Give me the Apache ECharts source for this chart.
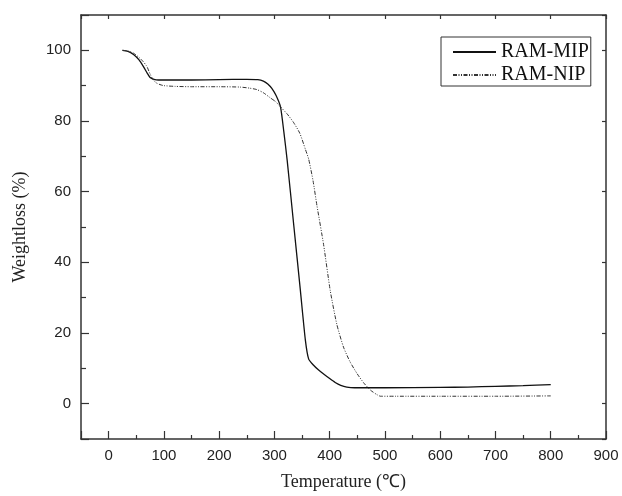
<!DOCTYPE html>
<html>
<head>
<meta charset="utf-8">
<script src="https://cdn.jsdelivr.net/npm/echarts@6/dist/echarts.min.js"></script>
<style>html,body{margin:0;padding:0;background:#fff}#c{width:622px;height:496px}</style>
</head>
<body>
<div id="c"></div>
<script>
const xTickLabels = [0, 100, 200, 300, 400, 500, 600, 700, 800, 900];
const yTickLabels = [0, 20, 40, 60, 80, 100];

const mipTemp = [25, 35, 45, 55, 63, 70, 75, 82, 90, 100, 150, 200, 250, 270, 280, 288, 295, 303, 311, 317, 323, 335, 347, 356, 362, 370, 380, 389, 400, 410, 420, 431, 445, 500, 600, 650, 700, 750, 800];
const mipWeight = [100, 99.7, 98.8, 97.3, 95.4, 93.5, 92.3, 91.8, 91.6, 91.6, 91.6, 91.7, 91.8, 91.7, 91.3, 90.5, 89.3, 87.2, 84, 77, 69, 50.5, 32, 18, 12.6, 11, 9.5, 8.4, 7.1, 6, 5.2, 4.7, 4.5, 4.5, 4.6, 4.7, 4.9, 5.1, 5.4];

const nipTemp = [25, 35, 45, 55, 62, 69, 75, 80, 86, 93, 100, 120, 150, 200, 238, 255, 268, 280, 293, 302, 311, 323, 335, 346, 356, 362, 370, 377, 389, 401, 413, 425, 437, 450, 462, 474, 485, 492, 520, 600, 700, 800];
const nipWeight = [100, 99.8, 99.2, 98, 96.9, 95.5, 93.3, 91.8, 90.8, 90.3, 90, 89.8, 89.7, 89.7, 89.6, 89.3, 88.9, 88, 86.5, 85.5, 84, 82, 79.5, 76.5, 72, 69.2, 63, 56, 45, 32, 22.4, 16, 11.8, 8.4, 5.8, 3.8, 2.6, 2.1, 2.1, 2.1, 2.1, 2.2];

const seriesNames = ['RAM-MIP', 'RAM-NIP'];

const zip = (a, b) => a.map((v, i) => [v, b[i]]);
const axisColor = '#333';
const tickFont = { fontFamily: 'Liberation Sans, Arial, sans-serif', fontSize: 15, color: '#222' };

const chart = echarts.init(document.getElementById('c'), null, { renderer: 'canvas' });
chart.setOption({
  animation: false,
  backgroundColor: '#fff',
  grid: { left: 81, right: 16, top: 15, bottom: 54, containLabel: false },
  legend: {
    orient: 'vertical',
    left: 441, top: 37,
    padding: [5, 2, 1, 11],
    itemGap: 3,
    itemWidth: 43, itemHeight: 14,
    borderColor: '#333', borderWidth: 1,
    itemStyle: { color: 'rgba(0,0,0,0)', borderColor: 'rgba(0,0,0,0)', borderWidth: 0, opacity: 0 },
    textStyle: { fontFamily: 'Liberation Serif, Times New Roman, serif', fontSize: 20, color: '#111' },
    data: seriesNames
  },
  xAxis: [{
    type: 'value', min: -50, max: 900, splitNumber: 9,
    name: 'Temperature (℃)', nameLocation: 'middle', nameGap: 34,
    nameTextStyle: { fontFamily: 'Liberation Serif, Times New Roman, serif', fontSize: 18, color: '#222' },
    axisLine: { onZero: false, lineStyle: { color: axisColor, width: 1.5 } },
    axisTick: { inside: true, length: 8, lineStyle: { color: axisColor, width: 1.2 } },
    minorTick: { show: true, splitNumber: 2, length: 4, lineStyle: { color: axisColor, width: 1.2 } },
    splitLine: { show: false },
    axisLabel: Object.assign({ margin: 9, showMinLabel: false, formatter: v => xTickLabels.includes(v) ? String(v) : '' }, tickFont)
  }, {
    type: 'value', min: -50, max: 900, splitNumber: 9, position: 'top',
    axisLine: { onZero: false, lineStyle: { color: axisColor, width: 1.5 } },
    axisTick: { inside: true, length: 4, lineStyle: { color: axisColor, width: 1.2 } },
    splitLine: { show: false }, axisLabel: { show: false }
  }],
  yAxis: [{
    type: 'value', min: -10, max: 110, splitNumber: 6,
    name: 'Weightloss (%)', nameLocation: 'middle', nameGap: 52, nameRotate: 90,
    nameTextStyle: { fontFamily: 'Liberation Serif, Times New Roman, serif', fontSize: 18, color: '#222' },
    axisLine: { onZero: false, lineStyle: { color: axisColor, width: 1.5 } },
    axisTick: { inside: true, length: 8, lineStyle: { color: axisColor, width: 1.2 } },
    minorTick: { show: true, splitNumber: 2, length: 5, lineStyle: { color: axisColor, width: 1.2 } },
    splitLine: { show: false },
    axisLabel: Object.assign({ margin: 10, showMinLabel: false, showMaxLabel: false, formatter: v => yTickLabels.includes(v) ? String(v) : '' }, tickFont)
  }, {
    type: 'value', min: -10, max: 110, splitNumber: 6, position: 'right',
    axisLine: { onZero: false, lineStyle: { color: axisColor, width: 1.5 } },
    axisTick: { inside: true, length: 4, lineStyle: { color: axisColor, width: 1.2 } },
    splitLine: { show: false }, axisLabel: { show: false }
  }],
  series: [{
    name: seriesNames[0], type: 'line', xAxisIndex: 0, yAxisIndex: 0,
    symbol: 'none', smooth: 0.2,
    lineStyle: { color: '#111', width: 1.3, type: 'solid' },
    itemStyle: { color: '#111' },
    data: zip(mipTemp, mipWeight)
  }, {
    name: seriesNames[1], type: 'line', xAxisIndex: 0, yAxisIndex: 0,
    symbol: 'none', smooth: 0.2,
    lineStyle: { color: '#333', width: 1, type: [4, 1.5, 1, 1.5, 1, 1.5] },
    itemStyle: { color: '#333' },
    data: zip(nipTemp, nipWeight)
  }]
});
</script>
</body>
</html>
